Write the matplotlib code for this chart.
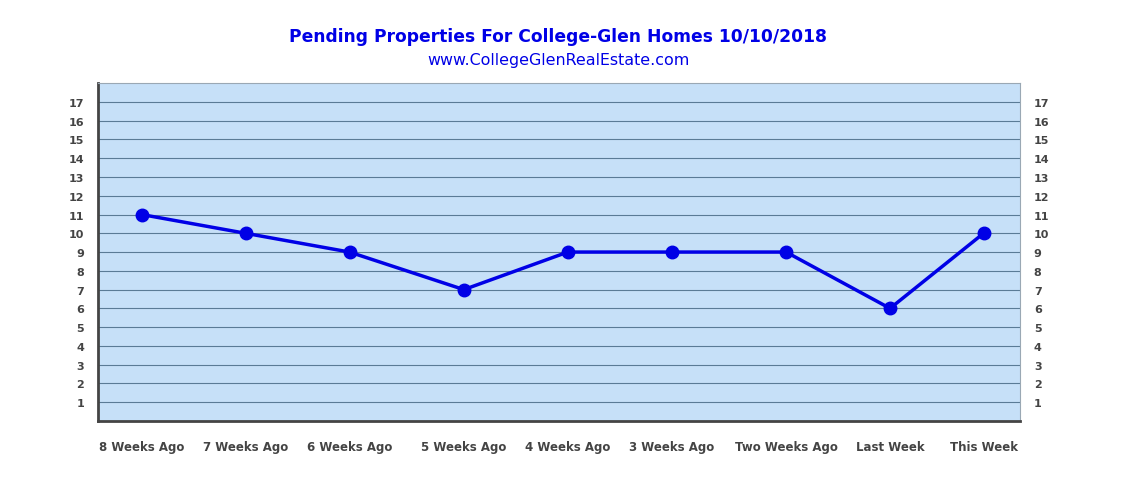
import matplotlib.pyplot as plt

labels = ['8 Weeks Ago', '7 Weeks Ago', '6 Weeks Ago', '5 Weeks Ago', '4 Weeks Ago',
          '3 Weeks Ago', 'Two Weeks Ago', 'Last Week', 'This Week']
pending = [11, 10, 9, 7, 9, 9, 9, 6, 10]
xpos = [0, 1, 2, 3.1, 4.1, 5.1, 6.2, 7.2, 8.1]

tick_font = ['Liberation Sans Narrow', 'DejaVu Sans Condensed', 'DejaVu Sans']

fig = plt.figure(figsize=(11.39, 4.89), dpi=100)
ax = fig.add_axes([0.086, 0.137, 0.8095, 0.691])
ax.set_facecolor('#c6e0f8')
ax.plot(xpos, pending, color='#0000e6', lw=2.5, marker='o', ms=9, zorder=3)
ax.set_xlim(-0.42, 8.45)
ax.set_ylim(0, 18)
yt = list(range(1, 18))
ax.set_yticks(yt)
ax.set_yticklabels([str(v) for v in yt], family=tick_font, weight='bold', color='#444444', fontsize=8)
ax.set_xticks(xpos)
ax.set_xticklabels(labels, family=tick_font, weight='bold', color='#444444', fontsize=8.5)
ax.tick_params(length=0)
ax.tick_params(axis='y', labelright=True, pad=10)
ax.tick_params(axis='x', pad=14)
ax.grid(axis='y', color='#5a7b96', lw=0.8)
ax.set_axisbelow(True)
for s in ['top', 'right']:
    ax.spines[s].set_color('#9aa8b4')
    ax.spines[s].set_linewidth(0.8)
for s in ['left', 'bottom']:
    ax.spines[s].set_color('#444444')
    ax.spines[s].set_linewidth(2)

fig.text(0.49, 0.915, 'Pending Properties For College-Glen Homes 10/10/2018', ha='center',
         fontsize=12.3, weight='bold', color='#0000e6', family='DejaVu Sans')
fig.text(0.49, 0.868, 'www.CollegeGlenRealEstate.com', ha='center',
         fontsize=11.4, color='#0000e6', family='DejaVu Sans')

fig.savefig('out.png')
